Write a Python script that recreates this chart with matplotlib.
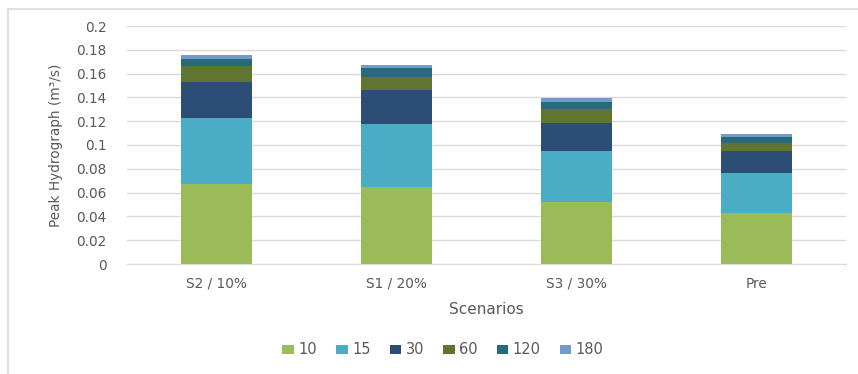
import matplotlib
matplotlib.use("Agg")
import matplotlib.pyplot as plt
from matplotlib.patches import Rectangle
import numpy as np

plt.rcParams['font.family'] = ['DejaVu Sans']

scenarios = ["S2 / 10%", "S1 / 20%", "S3 / 30%", "Pre"]
durations = ["10", "15", "30", "60", "120", "180"]
peak_10 = [0.0674, 0.0643, 0.0524, 0.0429]
peak_15 = [0.0555, 0.0532, 0.0423, 0.0338]
peak_30 = [0.0304, 0.0285, 0.0240, 0.0180]
peak_60 = [0.0127, 0.0115, 0.0115, 0.0071]
peak_120 = [0.0062, 0.0073, 0.0062, 0.0053]
peak_180 = [0.0034, 0.0023, 0.0034, 0.0025]
series = [peak_10, peak_15, peak_30, peak_60, peak_120, peak_180]
colors = ["#9BBB59", "#4BACC6", "#2C4D75", "#5F7530", "#276A7C", "#729ACA"]
yticks = [0, 0.02, 0.04, 0.06, 0.08, 0.1, 0.12, 0.14, 0.16, 0.18, 0.2]
ytick_labels = ["0", "0.02", "0.04", "0.06", "0.08", "0.1", "0.12", "0.14", "0.16", "0.18", "0.2"]

W, H = 858, 374
fig = plt.figure(figsize=(W / 100, H / 100), dpi=100)
ax = fig.add_axes([127 / W, 1 - 264 / H, (846 - 127) / W, (264 - 26) / H])

text_color = "#595959"
x = np.arange(len(scenarios))
bottom = np.zeros(len(scenarios))
for vals, col, name in zip(series, colors, durations):
    ax.bar(x, vals, width=0.395, bottom=bottom, color=col, label=name, zorder=3)
    bottom += np.array(vals)

ax.set_xlim(-0.5, len(scenarios) - 0.5)
ax.set_ylim(0, 0.2)
ax.set_yticks(yticks)
ax.set_yticklabels(ytick_labels)
ax.set_xticks(x)
ax.set_xticklabels(scenarios)
ax.yaxis.grid(True, color="#D9D9D9", linewidth=1.0, zorder=0)
ax.set_axisbelow(True)
for s in ["top", "right", "left"]:
    ax.spines[s].set_visible(False)
ax.spines["bottom"].set_color("#D9D9D9")
ax.tick_params(axis="both", length=0, labelsize=9.8, colors=text_color)
ax.tick_params(axis="y", pad=14.5)
ax.tick_params(axis="x", pad=9)
ax.set_xlabel("Scenarios", fontsize=11, color=text_color, labelpad=8)
ax.set_ylabel("Peak Hydrograph (m³/s)", fontsize=9.8, color=text_color, labelpad=10)

leg = fig.legend(loc="center", bbox_to_anchor=(443 / W, 1 - 350 / H), ncol=6,
                 frameon=False, fontsize=10.5, handlelength=0.8, handleheight=0.6,
                 handletextpad=0.3, columnspacing=1.3, labelcolor=text_color)

# chart-area outline
fig.patches.append(Rectangle((7.5 / W, -0.05), 1.1, 1 - 9 / H + 0.05,
                             transform=fig.transFigure, fill=False,
                             edgecolor="#D9D9D9", linewidth=1.2))

fig.savefig("out.png", dpi=100)
